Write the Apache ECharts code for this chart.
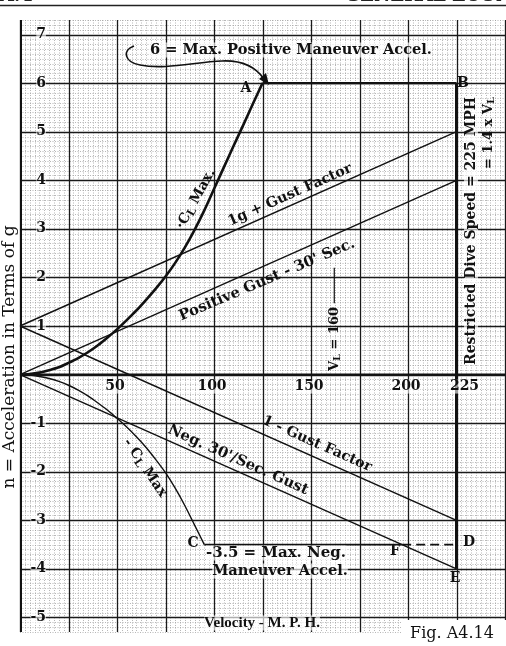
<!DOCTYPE html>
<html><head><meta charset="utf-8">
<script src="https://cdn.jsdelivr.net/npm/echarts@6/dist/echarts.min.js"></script>
<style>html,body{margin:0;padding:0;background:#fff}#c{width:506px;height:646px}</style>
</head><body><div id="c"></div>
<script>
// ---- data ----
const xTickValues = [50, 100, 150, 200, 225];
const yTickValues = [7, 6, 5, 4, 3, 2, 1, -1, -2, -3, -4, -5];
const posClMax = [[0,0],[5,0.01],[10,0.04],[15,0.09],[20,0.15],[25,0.24],[30,0.34],[35,0.46],[40,0.6],[45,0.76],[50,0.93],[55,1.12],[60,1.32],[65,1.54],[70,1.77],[75,2.02],[80,2.3],[85,2.62],[90,2.98],[95,3.38],[100,3.82],[105,4.26],[110,4.7],[115,5.13],[120,5.57],[125,6.0]];
const negClMax = [[0,0],[5,-0.01],[10,-0.04],[15,-0.08],[20,-0.14],[25,-0.22],[30,-0.32],[35,-0.44],[40,-0.58],[45,-0.73],[50,-0.9],[55,-1.08],[60,-1.28],[65,-1.5],[70,-1.75],[75,-2.02],[80,-2.34],[85,-2.7],[90,-3.1],[95,-3.5]];
const gustPlusOneG = [[0,1],[225,5]];
const gustPositive = [[0,0],[225,4]];
const gustMinusOneG = [[0,1],[225,-3]];
const gustNegative = [[0,0],[225,-4]];
const maxPositiveManeuver = [[125,6],[225,6]];
const diveSpeedLine = [[225,6],[225,-4]];
const maxNegativeManeuver = [[95,-3.5],[197,-3.5]];
const maxNegativeDashed = [[197,-3.5],[225,-3.5]];
const vlMarker = [[162,1.47],[162,2.2]];

const X_MIN = 0, X_MAX = 250, Y_MIN = -5.3, Y_MAX = 7.3;
const SERIF = '"DejaVu Serif", "Liberation Serif", serif';
const TIMES = '"Liberation Serif", "DejaVu Serif", serif';
const INK = '#111';

const chart = echarts.init(document.getElementById('c'), null, {renderer: 'canvas'});

function gridRender(params, api) {
  const minor = [], major = [];
  const yTop = api.coord([X_MIN, Y_MAX])[1], yBot = api.coord([X_MIN, Y_MIN])[1];
  const xL = api.coord([X_MIN, 0])[0], xR = api.coord([X_MAX, 0])[0];
  for (let i = 0; i <= 100; i++) {
    const x = Math.round(api.coord([i * 2.5, 0])[0]) + 0.5;
    const isMajor = i % 10 === 0;
    const el = {type: 'line', shape: {x1: x, y1: yTop, x2: x, y2: yBot},
      style: isMajor ? {stroke: '#1a1a1a', lineWidth: 1.3} : {stroke: '#999', lineWidth: 0.7, lineDash: [1, 1.5]}};
    (isMajor ? major : minor).push(el);
  }
  for (let i = -53; i <= 73; i++) {
    const y = Math.round(api.coord([0, i / 10])[1]) + 0.5;
    const isMajor = i % 10 === 0;
    const el = {type: 'line', shape: {x1: xL, y1: y, x2: xR, y2: y},
      style: isMajor ? {stroke: '#1a1a1a', lineWidth: 1.3} : {stroke: '#999', lineWidth: 0.7, lineDash: [1, 1.5]}};
    (isMajor ? major : minor).push(el);
  }
  const y0 = api.coord([0, 0])[1];
  major.push({type: 'line', shape: {x1: xL, y1: y0, x2: xR, y2: y0}, style: {stroke: INK, lineWidth: 2}});
  major.push({type: 'line', shape: {x1: xL + 1, y1: yTop, x2: xL + 1, y2: yBot}, style: {stroke: INK, lineWidth: 2}});
  return {type: 'group', children: minor.concat(major)};
}

function yTickRender(params, api) {
  const v = api.value(0);
  const p = api.coord([0, v]);
  return {type: 'text', x: p[0] + 26, y: p[1],
    style: {text: v < 0 ? '-' + Math.abs(v) : String(v), font: 'bold 14px ' + SERIF, fill: INK,
      align: 'right', verticalAlign: 'middle', backgroundColor: 'rgba(255,255,255,0.6)'}};
}
function xTickRender(params, api) {
  const v = api.value(0);
  const p = api.coord([v, 0]);
  return {type: 'text', x: p[0] + (v === 225 ? 8 : -2), y: p[1] + 12,
    style: {text: String(v), font: 'bold 14px ' + SERIF, fill: INK,
      align: 'center', verticalAlign: 'middle', backgroundColor: 'rgba(255,255,255,0.6)'}};
}

function lineSeries(data, width, extra) {
  return Object.assign({type: 'line', data: data, symbol: 'none', silent: true, animation: false,
    lineStyle: {color: INK, width: width}, z: 5}, extra || {});
}

const deg = Math.PI / 180;
const boldTxt = (t, x, y, rot, size, extraStyle) => ({type: 'text', x: x, y: y, rotation: (rot || 0) * deg, z: 100,
  style: Object.assign({text: t, font: 'bold ' + (size || 13) + 'px ' + SERIF, fill: INK, align: 'center', verticalAlign: 'middle'}, extraStyle || {})});
const subRich = (size) => ({
  n: {font: 'bold ' + size + 'px ' + SERIF, fill: INK},
  s: {font: 'bold ' + Math.round(size * 0.75) + 'px ' + SERIF, fill: INK, padding: [Math.round(size * 0.4), 0, 0, 0]}
});
const curve = (x1, y1, cx1, cy1, cx2, cy2, x2, y2) => ({type: 'bezierCurve', z: 100,
  shape: {x1: x1, y1: y1, cpx1: cx1, cpy1: cy1, cpx2: cx2, cpy2: cy2, x2: x2, y2: y2},
  style: {stroke: INK, lineWidth: 1.6, fill: null}});
const WH = 'rgba(255,255,255,0.65)';

chart.setOption({
  animation: false,
  grid: {left: 20, right: 1, top: 20, bottom: 14},
  xAxis: {type: 'value', min: X_MIN, max: X_MAX, show: false},
  yAxis: {type: 'value', min: Y_MIN, max: Y_MAX, show: false},
  series: [
    {type: 'custom', data: [[0]], renderItem: gridRender, silent: true, z: 1},
    lineSeries(posClMax, 2.6, {smooth: 0.3}),
    lineSeries(negClMax, 1.4, {smooth: 0.3}),
    lineSeries(gustPlusOneG, 1.4),
    lineSeries(gustPositive, 1.4),
    lineSeries(gustMinusOneG, 1.4),
    lineSeries(gustNegative, 1.4),
    lineSeries(maxPositiveManeuver, 2.4),
    lineSeries(diveSpeedLine, 3),
    lineSeries(maxNegativeManeuver, 1.8),
    lineSeries(maxNegativeDashed, 1.8, {lineStyle: {color: INK, width: 1.8, type: [9, 5]}}),
    lineSeries(vlMarker, 1.2),
    {type: 'custom', data: yTickValues.map(v => [v]), renderItem: yTickRender, silent: true, z: 20},
    {type: 'custom', data: xTickValues.map(v => [v]), renderItem: xTickRender, silent: true, z: 20}
  ],
  graphic: [
    {type: 'rect', shape: {x: 0, y: 0, width: 506, height: 19}, style: {fill: '#fff'}, z: 90},
    {type: 'line', shape: {x1: 0, y1: 5.5, x2: 506, y2: 5.5}, style: {stroke: '#222', lineWidth: 1.6}, z: 95},
    {type: 'text', x: 345, y: 5, z: 95, style: {text: 'GENERAL ECON', font: 'bold 18px ' + SERIF, fill: '#222', align: 'left', verticalAlign: 'bottom'}},
    {type: 'text', x: 0, y: 5, z: 95, style: {text: 'A.4', font: 'bold 18px ' + SERIF, fill: '#222', align: 'left', verticalAlign: 'bottom'}},
    {type: 'rect', shape: {x: 402, y: 620, width: 104, height: 26}, style: {fill: '#fff'}, z: 90},
    {type: 'text', x: 452, y: 634, z: 95, style: {text: 'Fig. A4.14', font: '16px ' + SERIF, fill: INK, align: 'center', verticalAlign: 'middle'}},
    {type: 'text', x: 10, y: 357, rotation: 90 * deg, z: 95,
      style: {text: 'n = Acceleration in Terms of g', font: '17px ' + SERIF, fill: INK, align: 'center', verticalAlign: 'middle', backgroundColor: '#fff'}},
    boldTxt('Velocity - M. P. H.', 262, 623, 0, 13, {font: 'bold 15px ' + TIMES, backgroundColor: WH}),
    boldTxt('6 = Max. Positive Maneuver Accel.', 291, 50, 0, 14.6, {backgroundColor: WH}),
    curve(134, 46, 122, 50, 124, 62, 140, 65),
    curve(140, 65, 165, 70, 195, 62, 222, 61),
    curve(222, 61, 245, 60, 257, 69, 264, 79),
    {type: 'polygon', z: 100, shape: {points: [[269, 85], [259, 79], [266, 73]]}, style: {fill: INK}},
    boldTxt('A', 246, 88, 0, 14),
    boldTxt('B', 463, 83, 0, 14),
    boldTxt('C', 193, 543, 0, 14),
    boldTxt('D', 469, 542, 0, 14),
    boldTxt('E', 455, 578, 0, 14),
    boldTxt('F', 395, 551, 0, 14),
    boldTxt('·{n|C}{s|L}{n| Max.}', 196, 199, 61, 14, {rich: subRich(14)}),
    boldTxt('{n|- C}{s|L}{n| Max}', 145, 468, -56, 14, {rich: subRich(14)}),
    boldTxt('1g + Gust Factor', 290, 195, 24, 14.2),
    boldTxt("Positive Gust - 30' Sec.", 267, 280, 23, 14.8),
    boldTxt('1 - Gust Factor', 317, 444, -24, 14.2),
    boldTxt("Neg. 30'/Sec. Gust", 238, 460, -24, 14.8),
    boldTxt('-3.5 = Max. Neg.', 276, 553, 0, 15, {backgroundColor: WH}),
    boldTxt('Maneuver Accel.', 280, 571, 0, 14.6, {backgroundColor: WH}),
    boldTxt('Restricted Dive Speed = 225 MPH', 471, 231, 90, 14, {backgroundColor: WH}),
    boldTxt('{n|= 1.4 x V}{s|L}', 489, 133, 90, 13, {rich: subRich(13)}),
    boldTxt('{n|V}{s|L}{n| = 160}', 335, 339, 90, 13, {rich: subRich(13)})
  ]
});
</script>
</body></html>
